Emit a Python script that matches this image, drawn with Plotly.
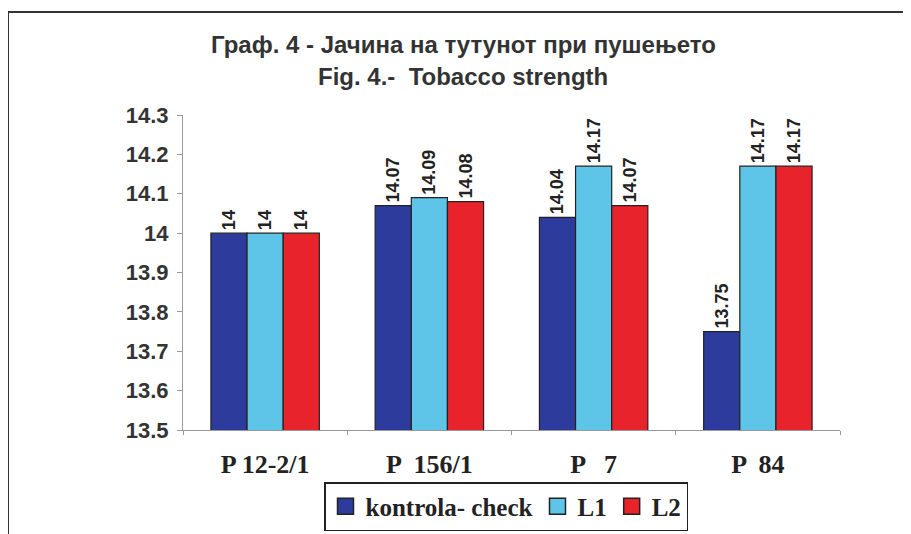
import plotly.graph_objects as go

categories = ["P 12-2/1", "P  156/1", "P   7", "P  84"]
kontrola = [14.0, 14.07, 14.04, 13.75]
l1 = [14.0, 14.09, 14.17, 14.17]
l2 = [14.0, 14.08, 14.07, 14.17]

series = [
    ("kontrola- check", kontrola, "#2d3c9c"),
    ("L1", l1, "#5ec4e8"),
    ("L2", l2, "#e8232b"),
]

# page body has an 8px margin, so shift everything back by 8
OFF = 8
W, H = 911, 534
L, T = 183 - OFF, 115 - OFF
pw, ph = 657, 315
R, B = W - L - pw, H - T - ph

def px(x):
    return (x - OFF - L) / pw

def py(y):
    return (OFF + T + ph - y) / ph

fig = go.Figure()
for name, vals, col in series:
    fig.add_trace(go.Bar(
        x=categories, y=vals, name=name, showlegend=False,
        marker=dict(color=col, line=dict(color="#222222", width=1.2)),
        text=[f"{v:g}" for v in vals],
        textposition="outside", textangle=-90, constraintext="none",
        textfont=dict(family="Arial", size=18, color="#222222", weight="bold"),
        cliponaxis=False,
    ))
# legend keys: bigger outlined squares like the original
for name, vals, col in series:
    fig.add_trace(go.Scatter(
        x=[None], y=[None], mode="markers", name=name,
        marker=dict(symbol="square", size=18, color=col,
                    line=dict(color="#222222", width=1.5)),
    ))

title_font = dict(family="Arial", size=24, color="#333333", weight="bold")

fig.update_layout(
    width=W, height=H,
    margin=dict(l=L, r=R, t=T, b=B, autoexpand=False),
    paper_bgcolor="white", plot_bgcolor="white",
    barmode="group", bargap=0.34, bargroupgap=0,
    annotations=[
        dict(text="Граф. 4 - Јачина на тутунот при пушењето", xref="paper", yref="paper",
             x=px(463), y=py(45), xanchor="center", yanchor="middle",
             showarrow=False, font=title_font),
        dict(text="Fig. 4.-  Tobacco strength", xref="paper", yref="paper",
             x=px(463), y=py(76), xanchor="center", yanchor="middle",
             showarrow=False, font=title_font),
    ],
    xaxis=dict(
        showline=True, linecolor="#999999", linewidth=1,
        ticks="outside", tickson="boundaries", ticklen=4, tickcolor="#999999",
        tickfont=dict(family="Liberation Serif", size=26, color="#222222", weight="bold"),
        ticklabelstandoff=11,
        showgrid=False, automargin=False,
    ),
    yaxis=dict(
        range=[13.5, 14.3], dtick=0.1,
        showline=True, linecolor="#999999", linewidth=1,
        ticks="outside", ticklen=5, tickcolor="#999999",
        tickfont=dict(family="Arial", size=22, color="#333333", weight="bold"),
        ticklabelstandoff=4,
        showgrid=False, zeroline=False, automargin=False,
    ),
    legend=dict(
        orientation="h", x=px(506), xanchor="center", y=py(482), yanchor="top",
        bordercolor="#222222", borderwidth=1.5,
        font=dict(family="Liberation Serif", size=25, color="#222222", weight="bold"),
        itemsizing="trace", itemwidth=30,
        traceorder="normal", tracegroupgap=0,
    ),
    shapes=[
        dict(type="line", xref="paper", yref="paper",
             x0=px(8), x1=px(920), y0=py(12), y1=py(12),
             line=dict(color="#333333", width=2)),
        dict(type="line", xref="paper", yref="paper",
             x0=px(8), x1=px(8), y0=py(12), y1=py(540),
             line=dict(color="#333333", width=2)),
    ],
)

fig.write_html("out.html")
